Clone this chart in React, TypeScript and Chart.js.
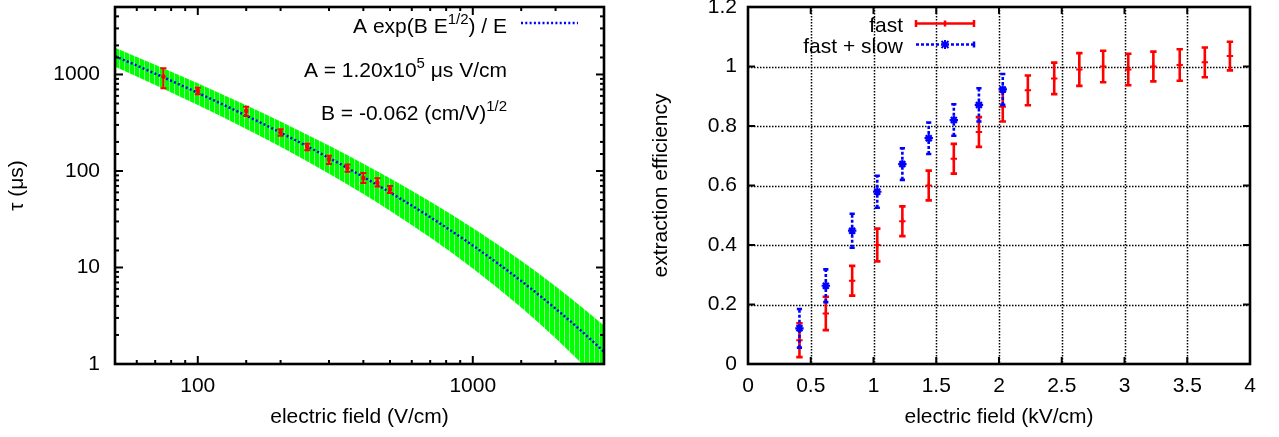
import React, { useEffect, useRef } from 'react';
import { Chart, registerables } from 'chart.js';

Chart.register(...registerables);

const FONT = '"Liberation Sans", Arial, Helvetica, sans-serif';
const FS = 21;

// ---------------- left panel: lifetime vs electric field ----------------
const fieldVcm = [75, 100, 150, 200, 250, 300, 350, 400, 450, 500];
const tauUs = [950, 680, 419, 252, 178, 132, 108, 84, 76, 64.6];
const tauLow = [720, 625, 372, 232, 164, 118, 98, 75, 69, 59];
const tauHigh = [1160, 730, 464, 270, 192, 144, 117, 95, 84, 70];

const fitField = [50, 70, 100, 150, 200, 300, 400, 500, 700, 1000, 1500, 2000, 2500, 3000];
const fitTau = [1548, 1020.5, 645.5, 374.4, 249.7, 136.7, 86.8, 60.0, 33.24, 16.9, 7.25, 3.75, 2.16, 1.34];
const bandHigh = [1895, 1263.5, 810.8, 479.7, 325.3, 183.1, 119.1, 84.0, 48.26, 25.68, 11.73, 6.39, 3.86, 2.5];
const bandLow = [1200, 778.7, 483.0, 272.7, 177.8, 93.7, 57.6, 38.7, 20.42, 9.76, 3.84, 1.85, 1.0, 0.586];

const leftXLabels = [100, 1000];
const leftYLabels = [1, 10, 100, 1000];

const leftXTitle = 'electric field (V/cm)';
const leftYTitle = 'τ (μs)';
const fitLegend = [{ t: 'A exp(B E' }, { t: '1/2', sup: true }, { t: ') / E' }];
const fitParamA = [{ t: 'A = 1.20x10' }, { t: '5', sup: true }, { t: ' μs V/cm' }];
const fitParamB = [{ t: 'B = -0.062 (cm/V)' }, { t: '1/2', sup: true }];

// ---------------- right panel: extraction efficiency ----------------
const fieldKVcm = [0.41, 0.62, 0.83, 1.03, 1.23, 1.44, 1.64, 1.84, 2.03, 2.23, 2.44, 2.64, 2.83, 3.03, 3.23, 3.44, 3.64, 3.84];
const fastEff = [0.08, 0.17, 0.28, 0.40, 0.48, 0.60, 0.69, 0.78, 0.865, 0.92, 0.96, 0.99, 1.0, 0.99, 1.0, 1.005, 1.014, 1.035];
const fastErr = [0.057, 0.056, 0.05, 0.055, 0.05, 0.05, 0.05, 0.05, 0.05, 0.05, 0.053, 0.055, 0.053, 0.053, 0.05, 0.053, 0.05, 0.048];
const fieldKVcmSlow = [0.41, 0.62, 0.83, 1.03, 1.23, 1.44, 1.64, 1.84, 2.03];
const fastSlowEff = [0.12, 0.263, 0.448, 0.579, 0.672, 0.759, 0.82, 0.871, 0.923];
const fastSlowErr = [0.065, 0.055, 0.057, 0.054, 0.053, 0.053, 0.053, 0.056, 0.052];

const rightXTitle = 'electric field (kV/cm)';
const rightYTitle = 'extraction efficiency';
const fastLabel = 'fast';
const fastSlowLabel = 'fast + slow';

const RED = '#ff0000';
const BLUE = '#0000ff';
const GREEN = '#00ff00';

type Seg = { t: string; sup?: boolean };

function drawRich(ctx: CanvasRenderingContext2D, segs: Seg[], xRight: number, baseline: number) {
  const main = `${FS}px ${FONT}`;
  const sup = `15px ${FONT}`;
  let total = 0;
  const widths = segs.map((s) => {
    ctx.font = s.sup ? sup : main;
    const w = ctx.measureText(s.t).width;
    total += w;
    return w;
  });
  let x = xRight - total;
  ctx.textAlign = 'left';
  ctx.textBaseline = 'alphabetic';
  ctx.fillStyle = '#000';
  segs.forEach((s, i) => {
    ctx.font = s.sup ? sup : main;
    ctx.fillText(s.t, x, s.sup ? baseline - 8.5 : baseline);
    x += widths[i];
  });
}

function line(ctx: CanvasRenderingContext2D, x1: number, y1: number, x2: number, y2: number) {
  ctx.beginPath();
  ctx.moveTo(x1, y1);
  ctx.lineTo(x2, y2);
  ctx.stroke();
}

const isDecade = (v: number) => Math.abs(Math.log10(v) - Math.round(Math.log10(v))) < 1e-9;

const errorBars = {
  id: 'errorBars',
  beforeDatasetDraw(chart: any, args: any) {
    const ds: any = chart.data.datasets[args.index];
    if (!ds.errLow) return;
    const ctx: CanvasRenderingContext2D = chart.ctx;
    const yScale = chart.scales[args.meta.yAxisID];
    ctx.save();
    ctx.strokeStyle = ds.errColor;
    ctx.lineWidth = ds.errWidth;
    ctx.lineCap = 'butt';
    args.meta.data.forEach((el: any, i: number) => {
      const x = el.x;
      const yl = yScale.getPixelForValue(ds.errLow[i]);
      const yh = yScale.getPixelForValue(ds.errHigh[i]);
      const c = ds.errCap;
      ctx.setLineDash(ds.errDash || []);
      line(ctx, x, yl, x, yh);
      ctx.setLineDash([]);
      ctx.beginPath();
      ctx.moveTo(x - c, yl);
      ctx.lineTo(x + c, yl);
      ctx.moveTo(x - c, yh);
      ctx.lineTo(x + c, yh);
      ctx.stroke();
    });
    ctx.restore();
  },
};

const leftDeco = {
  id: 'leftDeco',
  afterDatasetsDraw(chart: any) {
    const ctx: CanvasRenderingContext2D = chart.ctx;
    const a = chart.chartArea;
    const xs = chart.scales.x;
    const ys = chart.scales.y;
    ctx.save();
    ctx.strokeStyle = '#000';
    ctx.lineWidth = 2;
    ctx.setLineDash([]);
    xs.ticks.forEach((t: any) => {
      const v = t.value;
      if (v <= xs.min || v >= xs.max) return;
      const px = xs.getPixelForValue(v);
      const L = isDecade(v) ? 8 : 4;
      line(ctx, px, a.bottom, px, a.bottom - L);
      line(ctx, px, a.top, px, a.top + L);
    });
    ys.ticks.forEach((t: any) => {
      const v = t.value;
      if (v <= ys.min || v >= ys.max) return;
      const py = ys.getPixelForValue(v);
      const L = isDecade(v) ? 8 : 4;
      line(ctx, a.left, py, a.left + L, py);
      line(ctx, a.right, py, a.right - L, py);
    });
    ctx.lineWidth = 2.6;
    ctx.strokeRect(a.left, a.top, a.right - a.left, a.bottom - a.top);

    // key
    drawRich(ctx, fitLegend, 507, 32.5);
    ctx.strokeStyle = BLUE;
    ctx.lineWidth = 2.5;
    ctx.setLineDash([2, 2.3]);
    line(ctx, 521, 23, 578, 23);
    ctx.setLineDash([]);
    drawRich(ctx, fitParamA, 507, 76.5);
    drawRich(ctx, fitParamB, 507, 119.5);
    ctx.restore();
  },
};

const rightDeco = {
  id: 'rightDeco',
  beforeDatasetsDraw(chart: any) {
    const ctx: CanvasRenderingContext2D = chart.ctx;
    const a = chart.chartArea;
    const xs = chart.scales.x;
    const ys = chart.scales.y;
    ctx.save();
    ctx.strokeStyle = '#000';
    ctx.lineWidth = 1.5;
    ctx.setLineDash([1.5, 1.5]);
    xs.ticks.forEach((t: any) => {
      const v = t.value;
      if (v <= xs.min + 1e-9 || v >= xs.max - 1e-9) return;
      const px = Math.round(xs.getPixelForValue(v)) + 0.5;
      line(ctx, px, a.top, px, a.bottom);
    });
    ys.ticks.forEach((t: any) => {
      const v = t.value;
      if (v <= ys.min + 1e-9 || v >= ys.max - 1e-9) return;
      const py = Math.round(ys.getPixelForValue(v)) + 0.5;
      line(ctx, a.left, py, a.right, py);
    });
    ctx.restore();
  },
  afterDatasetsDraw(chart: any) {
    const ctx: CanvasRenderingContext2D = chart.ctx;
    const a = chart.chartArea;
    const xs = chart.scales.x;
    const ys = chart.scales.y;
    ctx.save();
    ctx.strokeStyle = '#000';
    ctx.lineWidth = 2;
    ctx.setLineDash([]);
    xs.ticks.forEach((t: any) => {
      const v = t.value;
      if (v <= xs.min + 1e-9 || v >= xs.max - 1e-9) return;
      const px = xs.getPixelForValue(v);
      line(ctx, px, a.bottom, px, a.bottom - 7);
      line(ctx, px, a.top, px, a.top + 7);
    });
    ys.ticks.forEach((t: any) => {
      const v = t.value;
      if (v <= ys.min + 1e-9 || v >= ys.max - 1e-9) return;
      const py = ys.getPixelForValue(v);
      line(ctx, a.left, py, a.left + 7, py);
      line(ctx, a.right, py, a.right - 7, py);
    });
    ctx.lineWidth = 2.6;
    ctx.strokeRect(a.left, a.top, a.right - a.left, a.bottom - a.top);

    // key
    ctx.fillStyle = '#000';
    ctx.font = `${FS}px ${FONT}`;
    ctx.textAlign = 'right';
    ctx.textBaseline = 'alphabetic';
    ctx.fillText(fastLabel, 263, 31.5);
    ctx.fillText(fastSlowLabel, 263, 52.5);

    const x1 = 276;
    const x2 = 334;
    const xm = 305;
    // red sample
    ctx.strokeStyle = RED;
    ctx.lineWidth = 2.5;
    line(ctx, x1, 23.5, x2, 23.5);
    line(ctx, x1, 20, x1, 27);
    line(ctx, x2, 20, x2, 27);
    line(ctx, xm, 20.5, xm, 26.5);
    // blue sample
    ctx.strokeStyle = BLUE;
    ctx.setLineDash([3, 2]);
    line(ctx, x1, 44.5, x2, 44.5);
    ctx.setLineDash([]);
    line(ctx, x2, 41.5, x2, 47.5);
    ctx.lineWidth = 2;
    line(ctx, xm - 3.5, 41, xm + 3.5, 48);
    line(ctx, xm - 3.5, 48, xm + 3.5, 41);
    line(ctx, xm, 40, xm, 49);
    ctx.restore();
  },
};

const tickFont = { family: FONT, size: FS };
const noGrid = { display: false, drawTicks: false, tickLength: 0 };

export default function App() {
  const leftRef = useRef<HTMLCanvasElement>(null);
  const rightRef = useRef<HTMLCanvasElement>(null);

  useEffect(() => {
    const lc = leftRef.current!;
    const rc = rightRef.current!;

    // striped green fill like the reference band
    const pc = document.createElement('canvas');
    pc.width = 5;
    pc.height = 4;
    const pctx = pc.getContext('2d')!;
    pctx.fillStyle = GREEN;
    pctx.fillRect(0, 0, 5, 4);
    pctx.fillStyle = '#8cff8c';
    pctx.fillRect(4, 0, 1, 4);
    const pattern = lc.getContext('2d')!.createPattern(pc, 'repeat');

    const zeroPad = (s: any) => {
      s.paddingLeft = 0;
      s.paddingRight = 0;
      s.paddingTop = 0;
      s.paddingBottom = 0;
    };

    const left = new Chart(lc, {
      type: 'scatter',
      data: {
        datasets: [
          {
            label: 'data',
            data: fieldVcm.map((x, i) => ({ x, y: tauUs[i] })),
            pointStyle: 'rect',
            pointRadius: 2.2,
            pointBackgroundColor: RED,
            pointBorderColor: RED,
            pointBorderWidth: 1,
            order: 0,
            errLow: tauLow,
            errHigh: tauHigh,
            errColor: RED,
            errWidth: 2,
            errCap: 3,
          } as any,
          {
            label: 'fit',
            data: fitField.map((x, i) => ({ x, y: fitTau[i] })),
            showLine: true,
            pointRadius: 0,
            borderColor: BLUE,
            borderWidth: 2.5,
            borderDash: [2, 2.3],
            cubicInterpolationMode: 'monotone',
            clip: 0,
            order: 1,
          } as any,
          {
            label: 'band high',
            data: fitField.map((x, i) => ({ x, y: bandHigh[i] })),
            showLine: true,
            pointRadius: 0,
            borderColor: 'rgba(0,0,0,0)',
            borderWidth: 1,
            backgroundColor: pattern,
            fill: '+1',
            cubicInterpolationMode: 'monotone',
            clip: 0,
            order: 2,
          } as any,
          {
            label: 'band low',
            data: fitField.map((x, i) => ({ x, y: bandLow[i] })),
            showLine: true,
            pointRadius: 0,
            borderColor: 'rgba(0,0,0,0)',
            borderWidth: 1,
            cubicInterpolationMode: 'monotone',
            clip: 0,
            order: 3,
          } as any,
        ],
      },
      options: {
        responsive: false,
        animation: false,
        devicePixelRatio: 1,
        events: [],
        layout: { padding: { left: 0, right: 36, top: 7, bottom: 0 }, autoPadding: false },
        plugins: { legend: { display: false }, tooltip: { enabled: false } },
        scales: {
          x: {
            type: 'logarithmic',
            position: 'bottom',
            min: 50,
            max: 3000,
            grid: noGrid,
            border: { display: false },
            ticks: {
              autoSkip: false,
              maxRotation: 0,
              minRotation: 0,
              padding: 10,
              color: '#000',
              font: tickFont,
              callback: (v: any) => (leftXLabels.some((l) => Math.abs(l - v) < 1e-6) ? String(Math.round(v)) : ''),
            },
            title: { display: true, text: leftXTitle, color: '#000', font: tickFont, padding: { top: 0, bottom: 7 } },
            afterFit: (s: any) => {
              s.height = 73;
              zeroPad(s);
            },
          },
          y: {
            type: 'logarithmic',
            position: 'left',
            min: 1,
            max: 5000,
            grid: noGrid,
            border: { display: false },
            ticks: {
              autoSkip: false,
              padding: 15,
              color: '#000',
              font: tickFont,
              callback: (v: any) => (leftYLabels.some((l) => Math.abs(l - v) < 1e-6) ? String(Math.round(v)) : ''),
            },
            title: { display: true, text: leftYTitle, color: '#000', font: tickFont, padding: { top: 5, bottom: 0 } },
            afterFit: (s: any) => {
              s.width = 115;
              zeroPad(s);
            },
          },
        },
      } as any,
      plugins: [errorBars, leftDeco] as any,
    });

    const right = new Chart(rc, {
      type: 'scatter',
      data: {
        datasets: [
          {
            label: fastLabel,
            data: fieldKVcm.map((x, i) => ({ x, y: fastEff[i] })),
            pointStyle: 'cross',
            pointRadius: 3.2,
            pointBorderColor: RED,
            pointBackgroundColor: RED,
            pointBorderWidth: 2,
            order: 1,
            errLow: fastEff.map((v, i) => v - fastErr[i]),
            errHigh: fastEff.map((v, i) => v + fastErr[i]),
            errColor: RED,
            errWidth: 2.6,
            errCap: 3.2,
          } as any,
          {
            label: fastSlowLabel,
            data: fieldKVcmSlow.map((x, i) => ({ x, y: fastSlowEff[i] })),
            pointStyle: 'star',
            pointRadius: 4.2,
            pointBorderColor: BLUE,
            pointBackgroundColor: BLUE,
            pointBorderWidth: 2.2,
            order: 0,
            errLow: fastSlowEff.map((v, i) => v - fastSlowErr[i]),
            errHigh: fastSlowEff.map((v, i) => v + fastSlowErr[i]),
            errColor: BLUE,
            errWidth: 2.6,
            errCap: 2.6,
            errDash: [3, 2],
          } as any,
        ],
      },
      options: {
        responsive: false,
        animation: false,
        devicePixelRatio: 1,
        events: [],
        layout: { padding: { left: 0, right: 29, top: 7, bottom: 0 }, autoPadding: false },
        plugins: { legend: { display: false }, tooltip: { enabled: false } },
        scales: {
          x: {
            type: 'linear',
            position: 'bottom',
            min: 0,
            max: 4,
            grid: noGrid,
            border: { display: false },
            ticks: {
              stepSize: 0.5,
              autoSkip: false,
              maxRotation: 0,
              minRotation: 0,
              padding: 10,
              color: '#000',
              font: tickFont,
              callback: (v: any) => String(Math.round(v * 10) / 10),
            },
            title: { display: true, text: rightXTitle, color: '#000', font: tickFont, padding: { top: 0, bottom: 7 } },
            afterFit: (s: any) => {
              s.height = 73;
              zeroPad(s);
            },
          },
          y: {
            type: 'linear',
            position: 'left',
            min: 0,
            max: 1.2,
            grid: noGrid,
            border: { display: false },
            ticks: {
              stepSize: 0.2,
              autoSkip: false,
              padding: 11,
              color: '#000',
              font: tickFont,
              callback: (v: any) => String(Math.round(v * 10) / 10),
            },
            title: { display: true, text: rightYTitle, color: '#000', font: tickFont, padding: { top: 9, bottom: 0 } },
            afterFit: (s: any) => {
              s.width = 108;
              zeroPad(s);
            },
          },
        },
      } as any,
      plugins: [errorBars, rightDeco] as any,
    });

    return () => {
      left.destroy();
      right.destroy();
    };
  }, []);

  return (
    <div style={{ position: 'fixed', left: 0, top: 0, width: 1279, height: 437, background: '#fff' }}>
      <canvas ref={leftRef} width={640} height={437} style={{ position: 'absolute', left: 0, top: 0, width: 640, height: 437 }} />
      <canvas ref={rightRef} width={639} height={437} style={{ position: 'absolute', left: 640, top: 0, width: 639, height: 437 }} />
    </div>
  );
}
